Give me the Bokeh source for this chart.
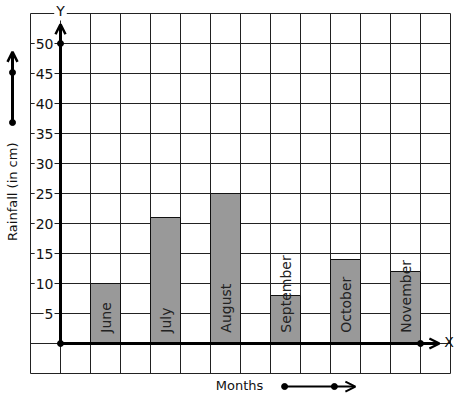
from bokeh.plotting import figure
from bokeh.models import Range1d, Arrow, OpenHead
from bokeh.embed import file_html
from bokeh.resources import INLINE
from bokeh.core.properties import value
import math

# ---- data ----
months = ["June", "July", "August", "September", "October", "November"]
rainfall = [10, 21, 25, 8, 14, 12]
y_ticks = [5, 10, 15, 20, 25, 30, 35, 40, 45, 50]
y_tick_labels = [str(t) for t in y_ticks]

W, H = 456, 398
OFF = 0
# reference pixel mapping: x px = 60 + 30*dx, y px = 343 - 6*v
p = figure(width=W, height=H, output_backend="svg", toolbar_location=None,
           x_range=Range1d((OFF - 60) / 30, (OFF + W - 60) / 30),
           y_range=Range1d((343 - OFF - H) / 6, (343 - OFF) / 6),
           x_axis_location=None, y_axis_location=None, min_border=0)
p.grid.visible = False
p.outline_line_color = None
p.background_fill_color = "white"

FONT = value("DejaVu Sans")

# grid
gx = list(range(-1, 14))
gy = list(range(-5, 56, 5))
p.segment(x0=gx, y0=[-5] * len(gx), x1=gx, y1=[55] * len(gx), line_color="#222222", line_width=1)
p.segment(x0=[-1] * len(gy), y0=gy, x1=[13] * len(gy), y1=gy, line_color="#222222", line_width=1)

# bars
xc = [1.5 + 2 * i for i in range(len(months))]
p.vbar(x=xc, top=rainfall, bottom=0, width=1, fill_color="#999999", line_color="#111111", line_width=1)

# month labels inside bars
p.text(x=xc, y=[1.8] * len(months), text=months, angle=math.pi / 2, text_align="left",
       text_baseline="middle", text_font=FONT, text_font_size="14px", text_color="#222222")

# y tick labels
p.text(x=[-0.2] * len(y_ticks), y=y_ticks, text=y_tick_labels, text_align="right", text_baseline="middle",
       text_font=FONT, text_font_size="14px", text_color="#111111",
       background_fill_color="white", padding=1)

# axes
p.add_layout(Arrow(end=OpenHead(size=10, line_width=2.5), x_start=0, y_start=0, x_end=0, y_end=53.2,
                   line_width=3, line_color="black"))
p.add_layout(Arrow(end=OpenHead(size=10, line_width=2.5), x_start=0, y_start=0, x_end=12.63, y_end=0,
                   line_width=3, line_color="black"))
p.scatter(x=[0, 0, 12], y=[0, 50, 0], size=6, color="black")

p.text(x=[0], y=[55.5], text=["Y"], text_align="center", text_baseline="middle", text_font=FONT,
       text_font_size="14px", text_color="#111111", background_fill_color="white", padding=2)
p.text(x=[12.95], y=[0.33], text=["X"], text_align="center", text_baseline="middle", text_font=FONT,
       text_font_size="14px", text_color="#111111")

# y axis title with arrow
p.text(x=[-1.6], y=[25.3], text=["Rainfall (in cm)"], angle=math.pi / 2, text_align="center",
       text_baseline="middle", text_font=FONT, text_font_size="13px", text_color="#111111")
p.add_layout(Arrow(end=OpenHead(size=10, line_width=2.5), x_start=-1.6, y_start=36.83, x_end=-1.6, y_end=48.6,
                   line_width=3, line_color="black"))
p.scatter(x=[-1.6, -1.6], y=[36.83, 45.17], size=6, color="black")

# x axis title with arrow
p.text(x=[5.97], y=[-7.0], text=["Months"], text_align="center", text_baseline="middle", text_font=FONT,
       text_font_size="13px", text_color="#111111")
p.add_layout(Arrow(end=OpenHead(size=10, line_width=2), x_start=7.47, y_start=-7.17, x_end=9.83, y_end=-7.17,
                   line_width=2, line_color="black"))
p.scatter(x=[7.47, 9.13], y=[-7.17, -7.17], size=6, color="black")

open("out.html", "w").write(file_html(p, INLINE))
